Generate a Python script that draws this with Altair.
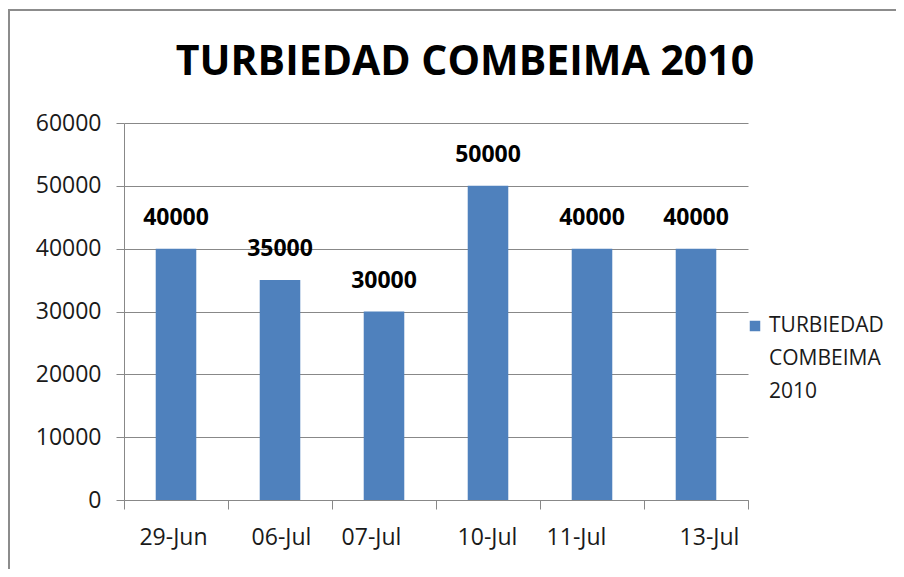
import altair as alt
import pandas as pd

dates = ["29-Jun", "06-Jul", "07-Jul", "10-Jul", "11-Jul", "13-Jul"]
values = [40000, 35000, 30000, 50000, 40000, 40000]
series = "TURBIEDAD COMBEIMA 2010"
legend_lines = ["TURBIEDAD", "COMBEIMA", "2010"]

df = pd.DataFrame({"fecha": dates, "valor": values})
one = pd.DataFrame({"k": [0]})

W, H = 624, 377
FONT = "Open Sans"
BLUE = "#4F81BD"
GRAY = "#888888"

# small per-label horizontal nudges seen in the original rendering (styling only)
label_nudge = {"29-Jun": -3, "06-Jul": 1, "07-Jul": -13, "10-Jul": -1, "11-Jul": -16, "13-Jul": 13}
offset_cond = {
    "condition": [{"test": f"datum.value == '{k}'", "value": v} for k, v in label_nudge.items()],
    "value": 0,
}

base = alt.Chart(df)

xenc = alt.X("fecha:N", sort=dates, title=None,
             scale=alt.Scale(paddingInner=0, paddingOuter=0),
             axis=alt.Axis(labelAngle=0, tickBand="extent", labelOffset=offset_cond,
                           labelFont=FONT, labelFontSize=23, labelColor="#1a1a1a",
                           labelPadding=17, tickSize=9, tickColor=GRAY,
                           domainColor=GRAY, grid=False))

bars = base.mark_bar(color=BLUE, width=alt.RelativeBandSize(0.39)).encode(
    x=xenc,
    y=alt.Y("valor:Q", title=None,
            scale=alt.Scale(domain=[0, 60000]),
            axis=alt.Axis(values=[0, 10000, 20000, 30000, 40000, 50000, 60000],
                          format="d",
                          labelFont=FONT, labelFontSize=23, labelColor="#1a1a1a",
                          labelPadding=15, tickSize=8, tickColor=GRAY,
                          domainColor=GRAY, gridColor=GRAY)),
)

text = base.mark_text(baseline="bottom", dy=-19, font=FONT, fontSize=23,
                      fontWeight="bold", color="#000000").encode(
    x=alt.X("fecha:N", sort=dates),
    y="valor:Q",
    text="valor:Q",
)

title = alt.Chart(one).mark_text(text=series, font=FONT, fontSize=41, fontWeight="bold",
                                 color="#000000", align="center", baseline="middle").encode(
    x=alt.value(341), y=alt.value(-60)
)

legend_sym = alt.Chart(one).mark_square(color=BLUE, size=110, opacity=1).encode(
    x=alt.value(631), y=alt.value(203)
)
legend_txt = alt.Chart(one).mark_text(text=legend_lines, font=FONT, fontSize=21,
                                      color="#1a1a1a", align="left", baseline="middle",
                                      lineHeight=33).encode(
    x=alt.value(645), y=alt.value(203)
)

frame_top = alt.Chart(one).mark_rect(color="#8c8c8c").encode(
    x=alt.value(-116), x2=alt.value(800), y=alt.value(-114), y2=alt.value(-112)
)
frame_left = alt.Chart(one).mark_rect(color="#8c8c8c").encode(
    x=alt.value(-116), x2=alt.value(-114), y=alt.value(-114), y2=alt.value(460)
)

chart = alt.layer(bars, text, title, legend_sym, legend_txt, frame_top, frame_left).properties(
    width=W, height=H,
    autosize=alt.AutoSizeParams(type="none"),
    padding={"left": 116, "top": 115, "right": 148, "bottom": 69},
).configure_view(stroke=None)

chart.save("out.html", embed_options={"renderer": "svg", "actions": False})
